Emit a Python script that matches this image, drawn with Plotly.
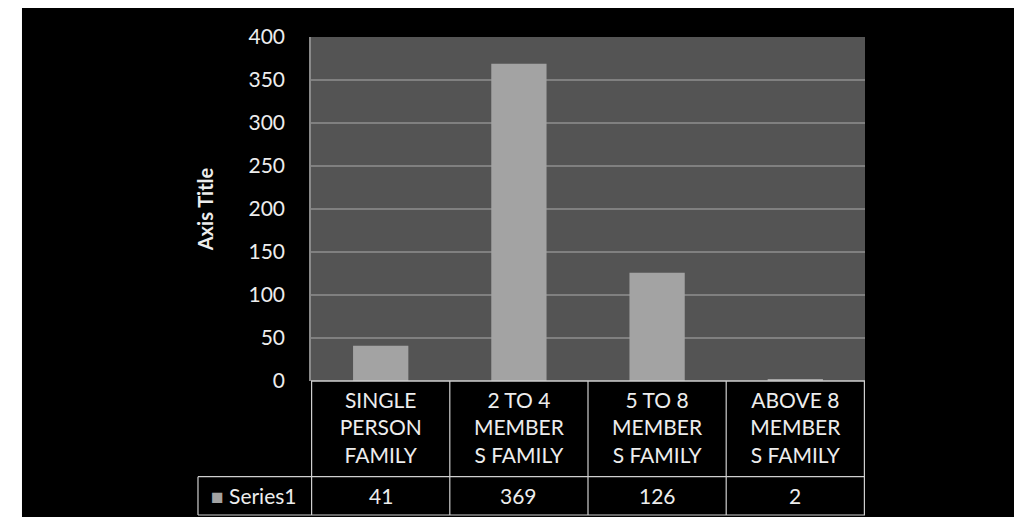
import plotly.graph_objects as go

categories = ["SINGLE<br>PERSON<br>FAMILY", "2 TO 4<br>MEMBER<br>S FAMILY",
              "5 TO 8<br>MEMBER<br>S FAMILY", "ABOVE 8<br>MEMBER<br>S FAMILY"]
series1 = [41, 369, 126, 2]
series_name = "Series1"
y_ticks = [0, 50, 100, 150, 200, 250, 300, 350, 400]

FONT = "Lato"
LINE = "#cfcfcf"
BAR = "#a3a3a3"
TXT = "#ededed"

fig = go.Figure(go.Bar(x=categories, y=series1, width=0.4, name=series_name,
                       marker=dict(color=BAR, line=dict(width=0))))

shapes = []
# white strip on the left of the screenshot
shapes.append(dict(type="rect", xref="paper", yref="paper", x0=-0.6, x1=-0.5217,
                   y0=-0.5, y1=1.2, fillcolor="white", line=dict(width=0)))

# data table grid under the plot
row_mid = -0.278
row_bot = -0.3895
left_cell = -0.204
n = len(categories)
for i in range(n + 1):
    shapes.append(dict(type="line", xref="x", yref="y domain", x0=i - 0.5, x1=i - 0.5,
                       y0=0, y1=row_bot, line=dict(color=LINE, width=1.2)))
shapes.append(dict(type="line", xref="x domain", yref="y domain", x0=left_cell, x1=left_cell,
                   y0=row_mid, y1=row_bot, line=dict(color=LINE, width=1.2)))
for yy in [row_mid, row_bot]:
    shapes.append(dict(type="line", xref="x domain", yref="y domain", x0=left_cell, x1=1,
                       y0=yy, y1=yy, line=dict(color=LINE, width=1.2)))
shapes.append(dict(type="line", xref="x domain", yref="y domain", x0=0, x1=1,
                   y0=0, y1=0, line=dict(color=LINE, width=1.5)))

annotations = []
row_y = (row_mid + row_bot) / 2
for c, v in zip(categories, series1):
    annotations.append(dict(x=c, xref="x", y=row_y, yref="y domain",
                            xanchor="center", yanchor="middle",
                            text=str(v), showarrow=False,
                            font=dict(family=FONT, size=21, color=TXT)))
annotations.append(dict(x=left_cell / 2, xref="x domain", y=row_y, yref="y domain",
                        xanchor="center", yanchor="middle",
                        text="<span style='color:%s'>■</span> %s" % (BAR, series_name),
                        showarrow=False, font=dict(family=FONT, size=21, color=TXT)))

# body keeps its default 8px margin, so the figure is 8px smaller each way
fig.update_layout(
    width=1014, height=509,
    margin=dict(l=303, r=157, t=29, b=136),
    paper_bgcolor="black", plot_bgcolor="#545454",
    showlegend=False,
    shapes=shapes, annotations=annotations,
    font=dict(family=FONT, color=TXT),
)
fig.update_xaxes(showgrid=False, tickfont=dict(family=FONT, size=21, color=TXT),
                 ticks="", ticklabelstandoff=5)
fig.update_yaxes(range=[0, 400], tickvals=y_ticks, gridcolor="#808080", gridwidth=2,
                 zeroline=False, showline=True, linecolor="#8a8a8a", linewidth=1.5,
                 tickfont=dict(family=FONT, size=21, color=TXT), ticklabelstandoff=20,
                 title=dict(text="<b>Axis Title</b>", standoff=30,
                            font=dict(family=FONT, size=20, color=TXT)))

fig.write_html("out.html")
